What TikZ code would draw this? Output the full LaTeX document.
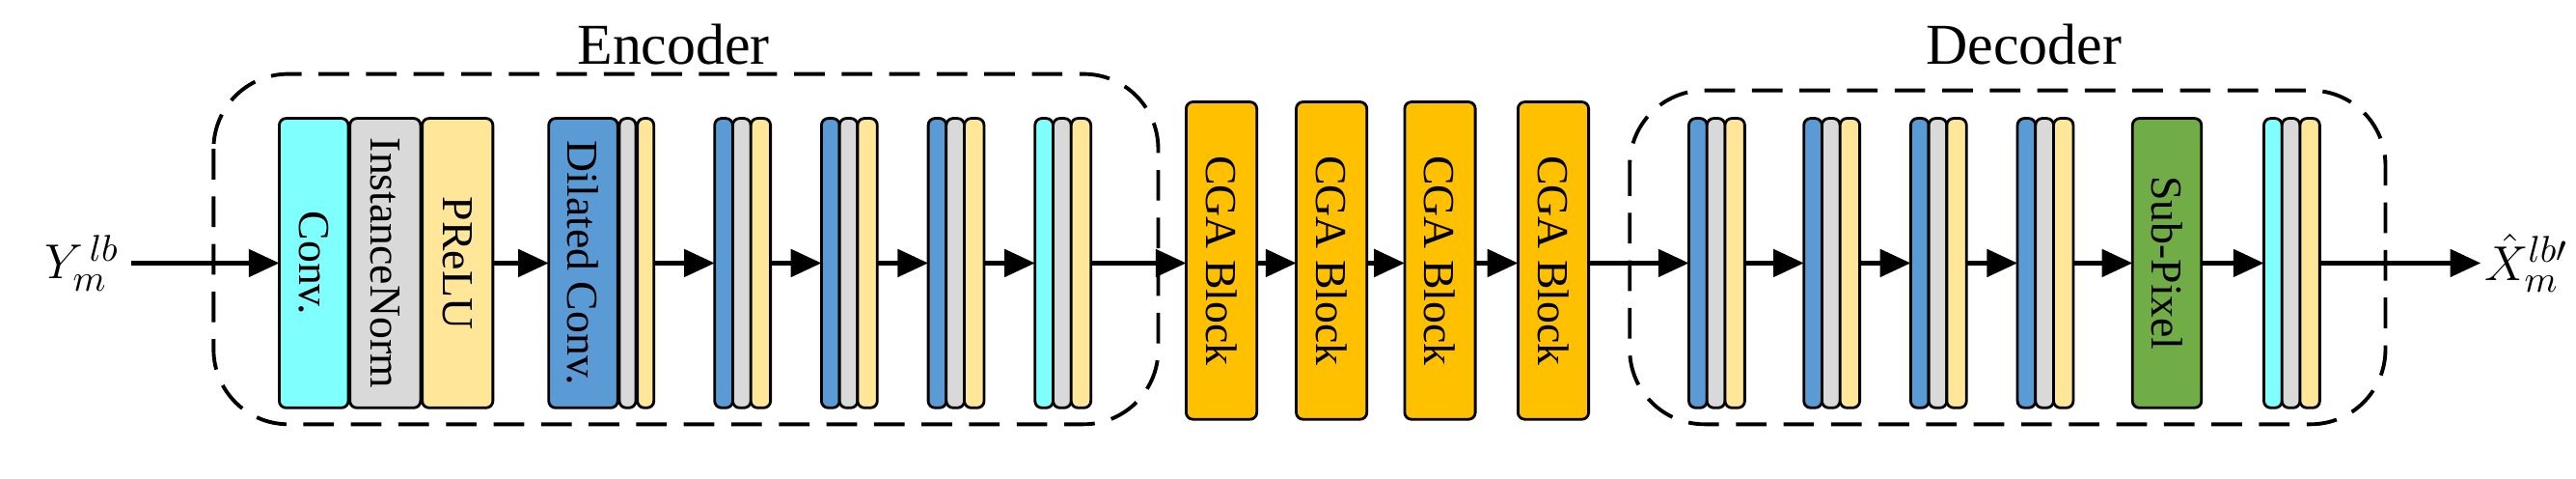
\documentclass[tikz,border=0pt]{standalone}
\usepackage{fontspec}
\setmainfont{Liberation Serif}
\usetikzlibrary{arrows.meta}
\definecolor{cyanc}{HTML}{80FFFF}
\definecolor{grayc}{HTML}{D9D9D9}
\definecolor{yelc}{HTML}{FFE699}
\definecolor{bluec}{HTML}{5B9BD5}
\definecolor{orac}{HTML}{FFC000}
\definecolor{grnc}{HTML}{70AD47}
\begin{document}
\begin{tikzpicture}[x=0.017cm,y=-0.017cm,
 blk/.style={draw=black,line width=0.8pt,rounded corners=2pt,inner sep=0pt,font=\fontsize{13}{13}\selectfont},
 lbl/.style={rotate=-90,font=\fontsize{13}{13}\selectfont},
 box/.style={draw=black,line width=1.1pt,dash pattern=on 9pt off 5pt,rounded corners=22pt},
 arr/.style={line width=1.3pt,-{Triangle[length=9pt,width=8pt]}}]
\useasboundingbox (0,0) rectangle (1568,291);
% dashed boxes
\draw[box] (130,45) rectangle (705,258);
\draw[box] (992,55) rectangle (1452,258);
\node[font=\fontsize{17}{17}\selectfont] (enc) at (410,27) {Encoder};
\node[font=\fontsize{17}{17}\selectfont] (dec) at (1232,27) {Decoder};
% encoder first block
\newcommand{\bk}[6]{\draw[blk,fill=#6] (#1,#2) rectangle (#3,#4); \node[lbl] at ({(#1+#3)/2},{(#2+#4)/2}) {#5};}
\bk{170}{72}{212}{248}{Conv.}{cyanc}
\bk{213}{72}{256}{248}{InstanceNorm}{grayc}
\bk{257}{72}{300}{248}{PReLU}{yelc}
\coordinate (c1) at (170,160);
\coordinate (c1r) at (300,160);
\bk{334}{72}{376}{248}{Dilated Conv.}{bluec}
\draw[blk,fill=grayc] (377,72) rectangle (387,248);
\draw[blk,fill=yelc] (388,72) rectangle (398,248);
\coordinate (d1) at (334,160); \coordinate (d1r) at (398,160);
\newcommand{\grp}[4]{\draw[blk,fill=#2] (#1,72) rectangle ({#1+11},248);
 \draw[blk,fill=grayc] ({#1+11},72) rectangle ({#1+22},248);
 \draw[blk,fill=yelc] ({#1+22},72) rectangle ({#1+34},248);
 \coordinate (#3) at (#1,160); \coordinate (#4) at ({#1+34},160);}
\grp{435}{bluec}{e1}{e1r}
\grp{500}{bluec}{e2}{e2r}
\grp{565}{bluec}{e3}{e3r}
\grp{630}{cyanc}{e4}{e4r}
% CGA
\bk{722}{62}{765}{255}{CGA Block}{orac}
\bk{789}{62}{832}{255}{CGA Block}{orac}
\bk{855}{62}{898}{255}{CGA Block}{orac}
\bk{924}{62}{967}{255}{CGA Block}{orac}
\coordinate (g1) at (722,160);\coordinate (g1r) at (765,160);
\coordinate (g2) at (789,160);\coordinate (g2r) at (832,160);
\coordinate (g3) at (855,160);\coordinate (g3r) at (898,160);
\coordinate (g4) at (924,160);\coordinate (g4r) at (967,160);
% decoder
\grp{1028}{bluec}{f1}{f1r}
\grp{1098}{bluec}{f2}{f2r}
\grp{1163}{bluec}{f3}{f3r}
\grp{1228}{bluec}{f4}{f4r}
\bk{1298}{72}{1340}{248}{Sub-Pixel}{grnc}
\coordinate (sp) at (1298,160);\coordinate (spr) at (1340,160);
\grp{1378}{cyanc}{f5}{f5r}
% labels
\node (in) at (50,160) {\fontsize{15}{15}\selectfont$Y_m^{\,lb}$};
\node[anchor=west,inner sep=1pt] (out) at (1510,160) {\fontsize{15}{15}\selectfont$\hat{X}_m^{lb\prime}$};
% arrows
\draw[arr] (in.east) -- (c1);
\draw[arr] (c1r) -- (d1);
\draw[arr] (d1r) -- (e1);
\draw[arr] (e1r) -- (e2);
\draw[arr] (e2r) -- (e3);
\draw[arr] (e3r) -- (e4);
\draw[arr] (e4r) -- (g1);
\draw[arr] (g1r) -- (g2);
\draw[arr] (g2r) -- (g3);
\draw[arr] (g3r) -- (g4);
\draw[arr] (g4r) -- (f1);
\draw[arr] (f1r) -- (f2);
\draw[arr] (f2r) -- (f3);
\draw[arr] (f3r) -- (f4);
\draw[arr] (f4r) -- (sp);
\draw[arr] (spr) -- (f5);
\draw[arr] (f5r) -- (out.west);
\end{tikzpicture}
\end{document}
